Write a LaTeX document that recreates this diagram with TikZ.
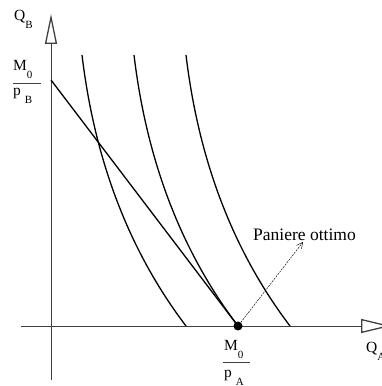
\documentclass[tikz,border=0pt]{standalone}
\usepackage{fontspec}
\setmainfont{Liberation Serif}
\usetikzlibrary{arrows.meta}
\newcommand{\lowidx}[1]{\raisebox{-8pt}{\fontsize{11}{11}\selectfont #1}}
\begin{document}
\begin{tikzpicture}[
  x=1pt, y=1pt,
  axis/.style={black!75, line width=0.9pt},
  curve/.style={line width=1.3pt},
  lbl/.style={anchor=base west, inner sep=0pt, font=\fontsize{15.5}{15.5}\selectfont},
  bar/.style={black!75, line width=0.9pt},
  optarrow/.style={-{Straight Barb[length=6pt,width=6pt]}, line width=0.45pt, dash pattern=on 2pt off 1pt}
]
  \useasboundingbox (0,0) rectangle (382,386);

  % Axes
  \coordinate (o1) at (51,6);
  \coordinate (yend) at (51,372);
  \coordinate (o2) at (21,60);
  \coordinate (xend) at (391,60);
  \draw[axis, -{Triangle[open, length=30pt, width=12pt, line width=1.3pt]}] (o1) -- (yend);
  \draw[axis, -{Triangle[open, length=30pt, width=14pt, line width=1.3pt]}] (o2) -- (xend);

  % Axis labels
  \node[lbl] (qb) at (14,365) {Q\lowidx{B}};
  \node[lbl] (qa) at (366,33) {Q\lowidx{A}};

  % Intercepts
  \node[lbl] (mb) at (13,315) {M\lowidx{0}};
  \draw[bar] (13,303) -- (41,303);
  \node[lbl] (pb) at (13,290) {p\hspace{4pt}\lowidx{B}};

  \node[lbl] (ma) at (224,35) {M\lowidx{0}};
  \draw[bar] (223,24) -- (250,24);
  \node[lbl] (pa) at (224,9) {p\hspace{4pt}\lowidx{A}};

  % Budget line
  \coordinate (top) at (51,306);
  \node[circle, fill, inner sep=0pt, minimum size=9pt] (opt) at (238,60) {};
  \draw[curve] (top) -- (opt.center);

  % Indifference curves
  \draw[curve] (82,331) .. controls (94.7,225) and (129.3,134.7) .. (186,60);
  \draw[curve] (134,331) .. controls (146.7,225) and (181.3,134.7) .. (opt.center);
  \draw[curve] (186,331) .. controls (198.7,225) and (233.3,134.7) .. (290,60);

  % Optimal basket
  \node[anchor=base west, inner sep=0pt, font=\fontsize{17.5}{18}\selectfont] (pan) at (253,145) {Paniere ottimo};
  \coordinate (tip) at (303,144);
  \draw[optarrow] (opt) -- (tip);
\end{tikzpicture}
\end{document}
